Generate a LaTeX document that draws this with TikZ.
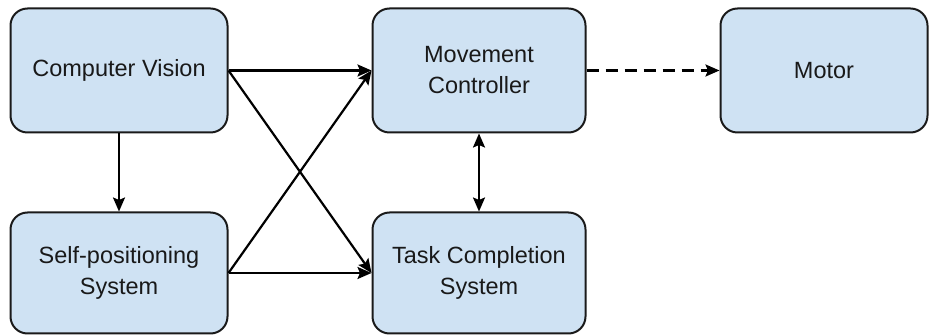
\documentclass[tikz,border=0pt]{standalone}
\usepackage{fontspec}
\setmainfont{Liberation Sans}
\usetikzlibrary{arrows.meta}
\definecolor{boxblue}{HTML}{CFE2F3}
\definecolor{edge}{HTML}{1A1A1A}
\begin{document}
\begin{tikzpicture}[x=1pt,y=-1pt,
  blockbox/.style={draw=edge,line width=2pt,fill=boxblue,rounded corners=17pt,
    align=center,inner sep=0pt,font=\fontsize{23.5}{31}\selectfont,text=black!90},
  conn/.style={draw=black,line width=2.2pt,-{Stealth[length=14pt,width=12pt,inset=2.5pt]}},
  biconn/.style={draw=black,line width=2.2pt,{Stealth[length=14pt,width=12pt,inset=2.5pt]}-{Stealth[length=14pt,width=12pt,inset=2.5pt]}}]
\useasboundingbox (0,0) rectangle (929,336);
\node[blockbox,minimum width=217pt,minimum height=124pt] (cv) at (119,70.5) {Computer Vision};
\node[blockbox,minimum width=217pt,minimum height=121pt] (sps) at (119,273) {Self-positioning\\System};
\node[blockbox,minimum width=213pt,minimum height=124pt] (mc) at (479,70.5) {Movement\\Controller};
\node[blockbox,minimum width=213pt,minimum height=121pt] (tcs) at (479,273) {Task Completion\\System};
\node[blockbox,minimum width=207pt,minimum height=124pt] (motor) at (824,70.5) {Motor};
\draw[conn] (cv.east) -- (mc.west);
\draw[conn] (cv.south) -- (sps.north);
\draw[conn] (sps.east) -- (tcs.west);
\draw[conn] (cv.east) -- (tcs.west);
\draw[conn] (sps.east) -- (mc.west);
\draw[biconn] (mc.south) -- (tcs.north);
\draw[conn,dash pattern=on 12pt off 7pt] (mc.east) -- (motor.west);
\end{tikzpicture}
\end{document}
